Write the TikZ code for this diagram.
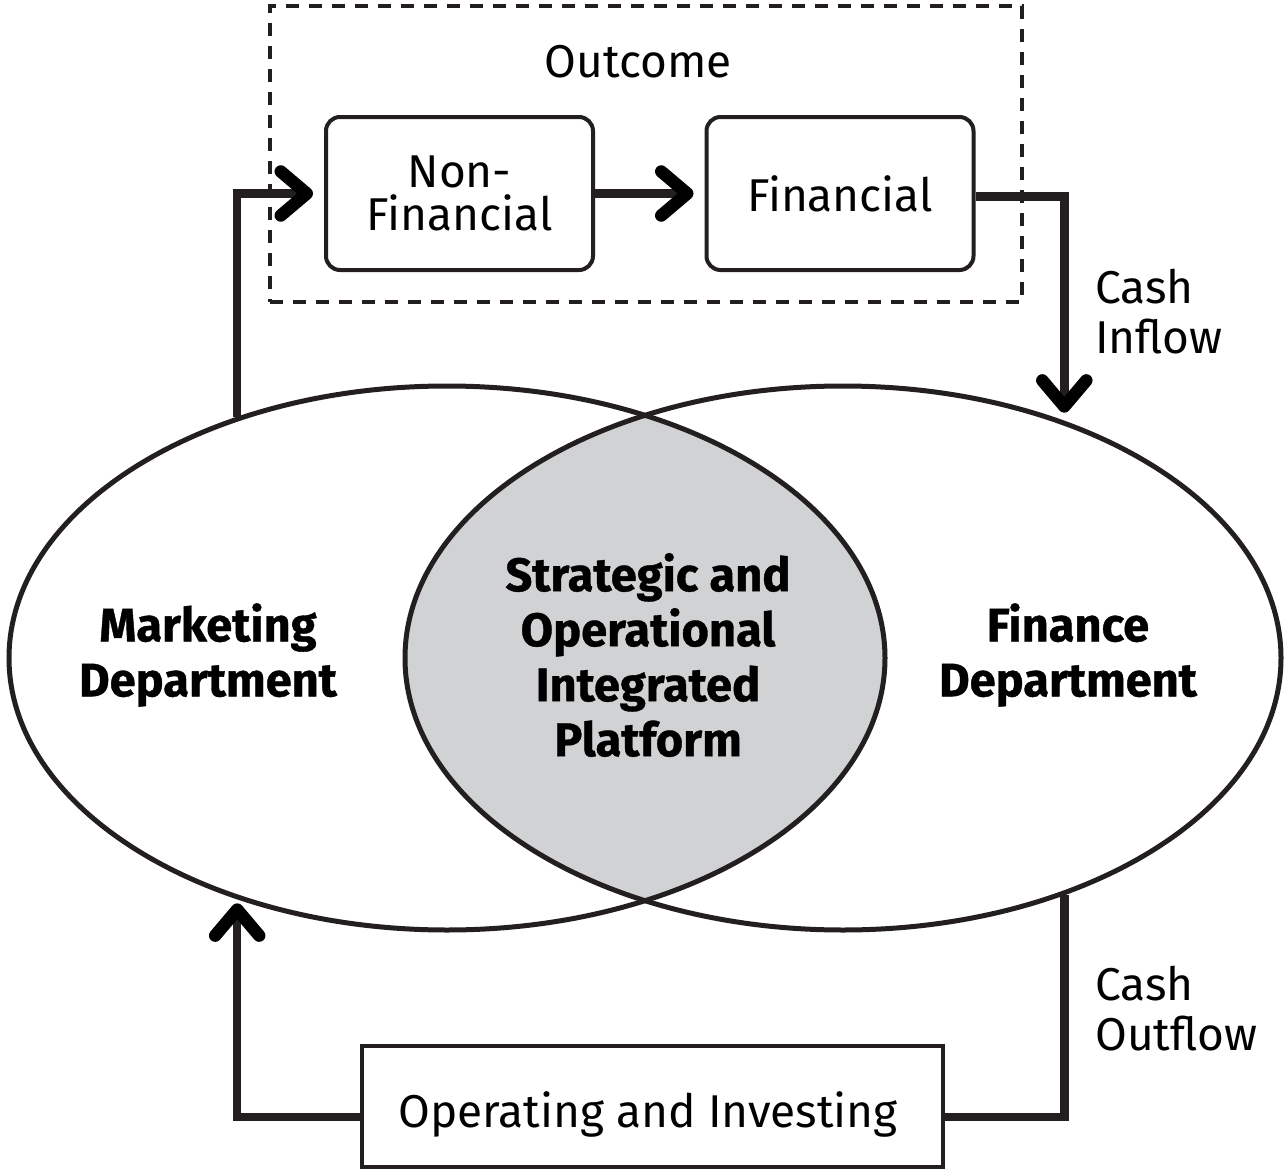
\documentclass[tikz,border=0pt]{standalone}
\usepackage{fontspec}
\setmainfont{Fira Sans}[BoldFeatures={FakeBold=0.8}]
\usetikzlibrary{arrows.meta,shapes.geometric}
\definecolor{ink}{HTML}{231F20}
\definecolor{lens}{HTML}{D1D2D4}
\tikzset{
  ell/.style={ellipse, draw=ink, line width=5pt, minimum width=876pt, minimum height=544pt, inner sep=0pt},
  rbox/.style={draw=ink, line width=4pt, rounded corners=14pt, minimum width=267pt, minimum height=153pt, inner sep=0pt},
  opbox/.style={draw=ink, line width=4pt, minimum width=581pt, minimum height=121pt, inner sep=0pt},
  conn/.style={draw=ink, line width=8.5pt, -{Straight Barb[length=26pt,width=44pt,round,line width=4pt 1,color=black]}},
  plain/.style={draw=ink, line width=8.5pt},
  txt/.style={font=\fontsize{46}{50}\selectfont, text=black, inner sep=0pt, align=center},
  btxt/.style={font=\fontsize{47}{55}\selectfont\bfseries, text=black, inner sep=0pt, align=center},
}
\begin{document}
\begin{tikzpicture}[x=1pt,y=-1pt]
\useasboundingbox (0,0) rectangle (1286,1170);
% lens fill
\begin{scope}
  \clip (447,658) ellipse [x radius=438pt, y radius=272pt];
  \fill[lens] (843,658) ellipse [x radius=438pt, y radius=272pt];
\end{scope}
\node[ell] (L) at (447,658) {};
\node[ell] (R) at (843,658) {};
% outcome frame
\node[draw=ink, line width=4pt, dash pattern=on 13pt off 10pt, minimum width=752pt, minimum height=296pt, inner sep=0pt] (frame) at (646,154) {};
\node[txt] (outcome) at (638,62) {Outcome};
\node[rbox, txt, font=\fontsize{46}{43}\selectfont] (NF) at (459.5,193.5) {Non-\\Financial};
\node[rbox, txt] (FI) at (840,193.5) {Financial};
% operating box
\node[opbox] (OP) at (652.5,1106.5) {};
\node[txt] (optxt) at (648,1114) {Operating and Investing};
% labels
\node[btxt] (mkt) at (208,655) {Marketing\\Department};
\node[btxt] (plat) at (648,655) {Strategic and\\Operational\\Integrated\\Platform};
\node[btxt] (fin) at (1068,655) {Finance\\Department};
\node[txt, align=left, anchor=west] (cin) at (1095,312) {Cash\\Inflow};
\node[txt, align=left, anchor=west] (cout) at (1095,1009) {Cash\\Outflow};
% connectors
\draw[conn, shorten >=11pt] (L.131.6) |- (NF.west);
\draw[conn, shorten >=11pt] (NF.east) -- (FI.west);
\draw[conn] ([yshift=-3pt]FI.east) -| ([yshift=8pt]R.47.66);
\draw[plain] (R.-47.66) |- ([yshift=-10.5pt]OP.east);
\draw[conn] ([yshift=-10.5pt]OP.west) -| ([yshift=-4pt]L.-131.6);
\end{tikzpicture}
\end{document}
